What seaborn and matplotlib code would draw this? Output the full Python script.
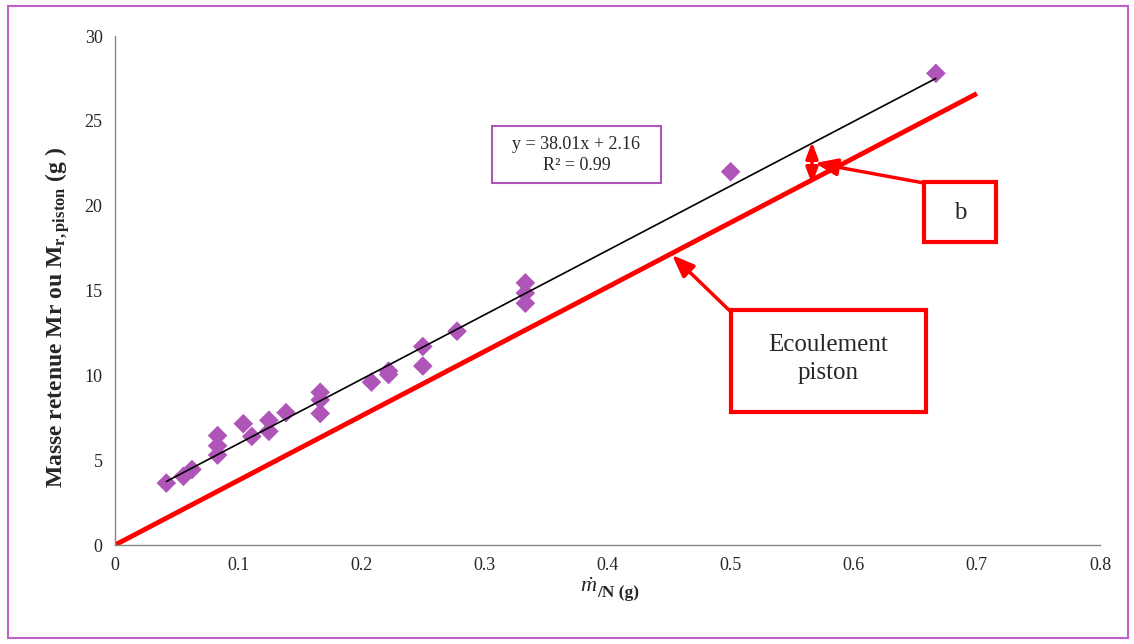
import numpy as np
import pandas as pd
import matplotlib
matplotlib.use("Agg")
import matplotlib.pyplot as plt
from matplotlib.patches import Rectangle, FancyArrowPatch
import seaborn as sns

# ---- data ----
x_vals = [0.0417, 0.0556, 0.0625, 0.0833, 0.0833, 0.0833, 0.1042, 0.1111, 0.125, 0.125,
          0.1389, 0.1667, 0.1667, 0.1667, 0.2083, 0.2222, 0.2222, 0.25, 0.25, 0.2778,
          0.3333, 0.3333, 0.3333, 0.5, 0.6667]
y_vals = [3.65, 4.05, 4.45, 6.45, 5.85, 5.3, 7.15, 6.4, 7.35, 6.7,
          7.8, 9.0, 8.55, 7.75, 9.6, 10.25, 10.05, 11.7, 10.55, 12.6,
          15.45, 14.85, 14.25, 22.0, 27.8]
trend_slope = 38.01
trend_intercept = 2.16
piston_x = [0.0, 0.7]
x_ticks = [0, 0.1, 0.2, 0.3, 0.4, 0.5, 0.6, 0.7, 0.8]
x_tick_labels = ["0", "0.1", "0.2", "0.3", "0.4", "0.5", "0.6", "0.7", "0.8"]
y_ticks = [0, 5, 10, 15, 20, 25, 30]

df = pd.DataFrame({"x": x_vals, "y": y_vals})

sns.set_style("white")
plt.rcParams["font.family"] = ["Liberation Serif", "DejaVu Serif"]
plt.rcParams["mathtext.fontset"] = "custom"
plt.rcParams["mathtext.rm"] = "Liberation Serif"
plt.rcParams["mathtext.it"] = "Liberation Serif:italic"
plt.rcParams["mathtext.bf"] = "Liberation Serif:bold"

W, H = 1134, 644
fig = plt.figure(figsize=(W / 100, H / 100), dpi=100)
ax = fig.add_axes([115 / W, 1 - 545 / H, (1100 - 115) / W, (545 - 36) / H])

def fp(px, py):
    return (px / W, 1 - py / H)

# piston flow line
px_arr = np.array(piston_x)
ax.plot(px_arr, trend_slope * px_arr, color="#FF0000", lw=3.5, solid_capstyle="butt", zorder=2)
# trend line
tx = np.array([min(x_vals), max(x_vals)])
ax.plot(tx, trend_slope * tx + trend_intercept, color="black", lw=1.2, zorder=4)
# points
sns.scatterplot(data=df, x="x", y="y", marker="D", s=100, color="#B055B8",
                edgecolor="none", ax=ax, zorder=3)

ax.set_xlim(0, 0.8)
ax.set_ylim(0, 30)
ax.set_xticks(x_ticks)
ax.set_xticklabels(x_tick_labels)
ax.set_yticks(y_ticks)
ax.tick_params(axis="both", direction="out", length=5, width=1, color="#868686",
               labelsize=13, pad=4)
for s in ["top", "right"]:
    ax.spines[s].set_visible(False)
for s in ["left", "bottom"]:
    ax.spines[s].set_color("#868686")
    ax.spines[s].set_linewidth(1)

ax.set_ylabel("")
fig.text(*fp(58, 318), r"Masse retenue Mr ou M$_{\mathbf{r,piston}}$ (g )", rotation=90,
         ha="center", va="center", fontsize=17, fontweight="bold")
ax.set_xlabel("")
fig.text(*fp(597, 592), r"$\dot{m}$", ha="right", va="baseline", fontsize=16)
fig.text(*fp(597, 597), "/N (g)", ha="left", va="baseline", fontsize=12.5, fontweight="bold")

# equation box
r = Rectangle(fp(492, 183), (661 - 492) / W, (183 - 126) / H, transform=fig.transFigure,
              facecolor="white", edgecolor="#B055B8", lw=1.5, zorder=5)
fig.patches.append(r)
fig.text(*fp(576.5, 155), "y = 38.01x + 2.16\nR² = 0.99", ha="center", va="center",
         fontsize=13, linespacing=1.3, zorder=6)

# b box
r = Rectangle(fp(924, 242), (996 - 924) / W, (242 - 182) / H, transform=fig.transFigure,
              facecolor="white", edgecolor="#FF0000", lw=3, zorder=5)
fig.patches.append(r)
fig.text(*fp(960, 213), "b", ha="center", va="center", fontsize=18, zorder=6)

# Ecoulement box
r = Rectangle(fp(731, 412), (926 - 731) / W, (412 - 310) / H, transform=fig.transFigure,
              facecolor="white", edgecolor="#FF0000", lw=3, zorder=5)
fig.patches.append(r)
fig.text(*fp(828.5, 359), "Ecoulement\npiston", ha="center", va="center", fontsize=18,
         linespacing=1.3, zorder=6)

# arrows
def arrow(p0, p1, style, ms):
    a = FancyArrowPatch(fp(*p0), fp(*p1), transform=fig.transFigure, arrowstyle=style,
                        mutation_scale=ms, color="#FF0000", lw=2.5, shrinkA=0, shrinkB=0,
                        zorder=7)
    fig.patches.append(a)

arrow((924, 183), (815, 163), "-|>,head_length=0.9,head_width=0.35", 15)
arrow((731, 312), (672, 255), "-|>,head_length=0.9,head_width=0.35", 15)
arrow((812, 184), (812, 142), "<|-|>,head_length=0.8,head_width=0.3", 12)

# outer frame
fr = Rectangle(fp(8, 638), (1128 - 8) / W, (638 - 6) / H, transform=fig.transFigure,
               facecolor="none", edgecolor="#C060C8", lw=1.5)
fig.patches.append(fr)

fig.savefig("out.png", dpi=100, facecolor="white")
